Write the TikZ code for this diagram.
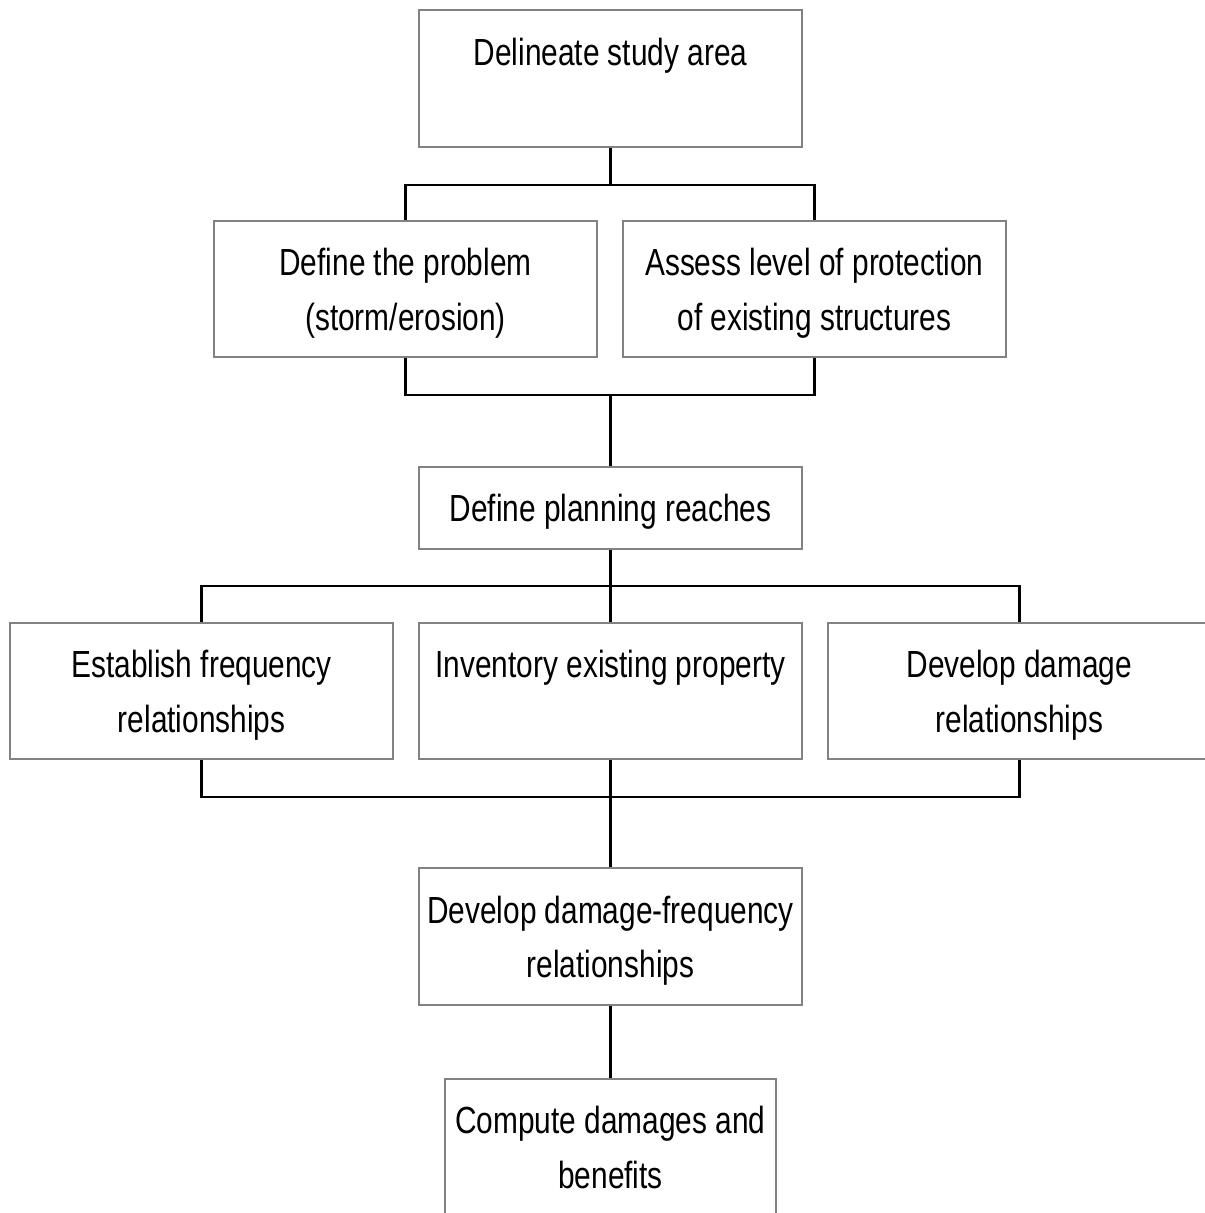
\documentclass[tikz,border=0pt]{standalone}
\usepackage{fontspec}
\setmainfont{Liberation Sans}[FakeStretch=0.79]
\usetikzlibrary{positioning}
\definecolor{boxgray}{RGB}{130,130,130}

\tikzset{
  stepbox/.style={draw=boxgray, line width=1.1pt, inner sep=0pt, minimum width=7.66cm, minimum height=2.73cm},
  lowbox/.style={stepbox, minimum height=1.64cm},
  txt/.style={anchor=north, align=center, inner sep=0pt, yshift=-0.56cm, font=\fontsize{21.5}{31.2}\selectfont},
  link/.style={line width=1.4pt}
}

\begin{document}
\begin{tikzpicture}[x=0.02cm, y=-0.02cm]
  \useasboundingbox (0,0) rectangle (1204,1213);
  \node[stepbox, label={[txt]north:Delineate study area}] (area) at (610.5,78.5) {};
  \node[stepbox, label={[txt]north:{Define the problem\\(storm/erosion)}}] (prob) at (405.5,289) {};
  \node[stepbox, label={[txt]north:{Assess level of protection\\of existing structures}}] (prot) [right=0.48cm of prob] {};
  \node[lowbox, label={[txt]north:Define planning reaches}] (reach) at (610.5,508) {};
  \node[stepbox, label={[txt]north:Inventory existing property}] (inv) at (610.5,691) {};
  \node[stepbox, label={[txt]north:{Establish frequency\\relationships}}] (freq) [left=0.48cm of inv] {};
  \node[stepbox, label={[txt]north:{Develop damage\\relationships}}] (dmg) [right=0.48cm of inv] {};
  \node[stepbox, label={[txt]north:{Develop damage-frequency\\relationships}}] (dfreq) at (610.5,936.5) {};
  \node[stepbox, minimum width=6.62cm, label={[txt]north:{Compute damages and\\benefits}}] (comp) at (610.5,1147) {};

  \coordinate (s1) at (610.5,185);
  \coordinate (m1) at (610.5,395);
  \coordinate (s2) at (610.5,586);
  \coordinate (m2) at (610.5,797);

  \draw[link] (area) -- (s1) -| (prob) (s1) -| (prot);
  \draw[link] (prob) |- (m1) -| (prot) (m1) -- (reach);
  \draw[link] (reach) -- (inv) (s2) -| (freq) (s2) -| (dmg);
  \draw[link] (freq) |- (m2) -| (dmg) (inv) -- (dfreq);
  \draw[link] (dfreq) -- (comp);
\end{tikzpicture}
\end{document}
